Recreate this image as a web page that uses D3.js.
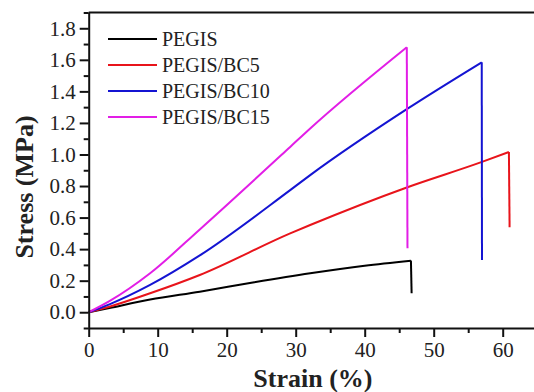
<!DOCTYPE html>
<html>
<head>
<meta charset="utf-8">
<script src="https://cdn.jsdelivr.net/npm/d3@7/dist/d3.min.js"></script>
<style>
  body { margin: 0; background: #fff; }
  svg { display: block; }
  text { font-family: "Liberation Serif", "Times New Roman", serif; fill: #222; }
</style>
</head>
<body>
<script>
// stress-strain curves, values
// the last point of each series is the break (vertical drop)
var seriesNames = ["PEGIS", "PEGIS/BC5", "PEGIS/BC10", "PEGIS/BC15"];
var seriesColors = ["#000000", "#e8141b", "#1414d2", "#e21ee6"];

var strainPEGIS = [0, 3, 8.9, 16.1, 24, 32.1, 40, 46.7, 46.8];
var stressPEGIS = [0, 0.027, 0.08, 0.13, 0.19, 0.247, 0.295, 0.327, 0.12];

var strainBC5 = [0, 3, 8.9, 16.1, 29.2, 32.1, 46.1, 57, 60.9, 61.0];
var stressBC5 = [0, 0.035, 0.12, 0.236, 0.5, 0.553, 0.791, 0.953, 1.016, 0.538];

var strainBC10 = [0, 3, 8.9, 16.1, 29.2, 32.1, 46.1, 56.96, 57.0];
var stressBC10 = [0, 0.05, 0.173, 0.36, 0.774, 0.869, 1.287, 1.584, 0.331];

var strainBC15 = [0, 3, 8.9, 16.1, 29.2, 32.1, 46.1, 46.2];
var stressBC15 = [0, 0.07, 0.247, 0.525, 1.048, 1.165, 1.68, 0.405];

var xTicks = [0, 10, 20, 30, 40, 50, 60];
var yTicks = [0.0, 0.2, 0.4, 0.6, 0.8, 1.0, 1.2, 1.4, 1.6, 1.8];

var w = 534, h = 392;
var padL = 88.7, padR = 537.2, padT = 12.5, padB = 328;
var serif = '"Liberation Serif", "Times New Roman", serif';

var svg = d3.select("body").append("svg")
  .attr("width", w)
  .attr("height", h);

var x = d3.scaleLinear().domain([0, 65]).range([padL, padR]);
var y = d3.scaleLinear().domain([-0.1, 1.9]).range([padB, padT]);

var strains = [strainPEGIS, strainBC5, strainBC10, strainBC15];
var stresses = [stressPEGIS, stressBC5, stressBC10, stressBC15];

var smooth = d3.line()
  .curve(d3.curveMonotoneX)
  .x(function(d) { return x(d[0]); })
  .y(function(d) { return y(d[1]); });

var straight = d3.line()
  .x(function(d) { return x(d[0]); })
  .y(function(d) { return y(d[1]); });

// curves: smooth rise, then straight drop at break
for (var i = 0; i < 4; i++) {
  var pts = strains[i].map(function(s, j) { return [s, stresses[i][j]]; });
  var rise = pts.slice(0, pts.length - 1);
  var drop = pts.slice(pts.length - 2);
  svg.append("path")
    .attr("d", smooth(rise))
    .attr("fill", "none")
    .attr("stroke", seriesColors[i])
    .attr("stroke-width", 2);
  svg.append("path")
    .attr("d", straight(drop))
    .attr("fill", "none")
    .attr("stroke", seriesColors[i])
    .attr("stroke-width", 2);
}

// minor ticks
var xMinor = d3.range(5, 65, 10);
var yMinor = d3.range(-0.1, 1.95, 0.2).map(function(v) { return +v.toFixed(1); });

svg.append("g")
  .attr("transform", "translate(0," + padB + ")")
  .call(d3.axisBottom(x).tickValues(xMinor).tickSize(5).tickFormat(""))
  .call(function(g) { g.select(".domain").remove(); })
  .selectAll("line").attr("stroke", "#111").attr("stroke-width", 2);

svg.append("g")
  .attr("transform", "translate(" + padL + ",0)")
  .call(d3.axisLeft(y).tickValues(yMinor).tickSize(5).tickFormat(""))
  .call(function(g) { g.select(".domain").remove(); })
  .selectAll("line").attr("stroke", "#111").attr("stroke-width", 2);

// major axes
var xAxis = svg.append("g")
  .attr("transform", "translate(0," + padB + ")")
  .call(d3.axisBottom(x).tickValues(xTicks).tickSize(9).tickPadding(5).tickSizeOuter(0).tickFormat(d3.format("d")));

var yAxis = svg.append("g")
  .attr("transform", "translate(" + padL + ",0)")
  .call(d3.axisLeft(y).tickValues(yTicks).tickSize(9).tickPadding(4).tickSizeOuter(0).tickFormat(d3.format(".1f")));

[xAxis, yAxis].forEach(function(g) {
  g.attr("font-family", serif).attr("font-size", 21);
  g.select(".domain").attr("stroke", "#111").attr("stroke-width", 2);
  g.selectAll(".tick line").attr("stroke", "#111").attr("stroke-width", 2);
  g.selectAll(".tick text")
    .style("font-family", serif)
    .style("font-size", "21px")
    .attr("fill", "#222");
});

// top and right spines
svg.append("line").attr("x1", padL).attr("x2", padR).attr("y1", padT).attr("y2", padT)
  .attr("stroke", "#111").attr("stroke-width", 2);
svg.append("line").attr("x1", padR).attr("x2", padR).attr("y1", padT).attr("y2", padB)
  .attr("stroke", "#111").attr("stroke-width", 2);

// axis titles
svg.append("text")
  .attr("x", (padL + padR) / 2)
  .attr("y", 387)
  .attr("text-anchor", "middle")
  .attr("font-size", 26)
  .attr("font-weight", "bold")
  .text("Strain (%)");

svg.append("text")
  .attr("transform", "translate(33,187) rotate(-90)")
  .attr("text-anchor", "middle")
  .attr("font-size", 26)
  .attr("font-weight", "bold")
  .text("Stress (MPa)");

// legend
var legend = svg.selectAll("g.legend")
  .data(seriesNames)
  .enter()
  .append("g")
  .attr("class", "legend")
  .attr("transform", function(d, i) { return "translate(108," + (39 + i * 26) + ")"; });

legend.append("line")
  .attr("x1", 0).attr("x2", 49)
  .attr("stroke", function(d, i) { return seriesColors[i]; })
  .attr("stroke-width", 2);

legend.append("text")
  .attr("x", 54)
  .attr("y", 7)
  .attr("font-size", 20)
  .text(function(d) { return d; });
</script>
</body>
</html>
